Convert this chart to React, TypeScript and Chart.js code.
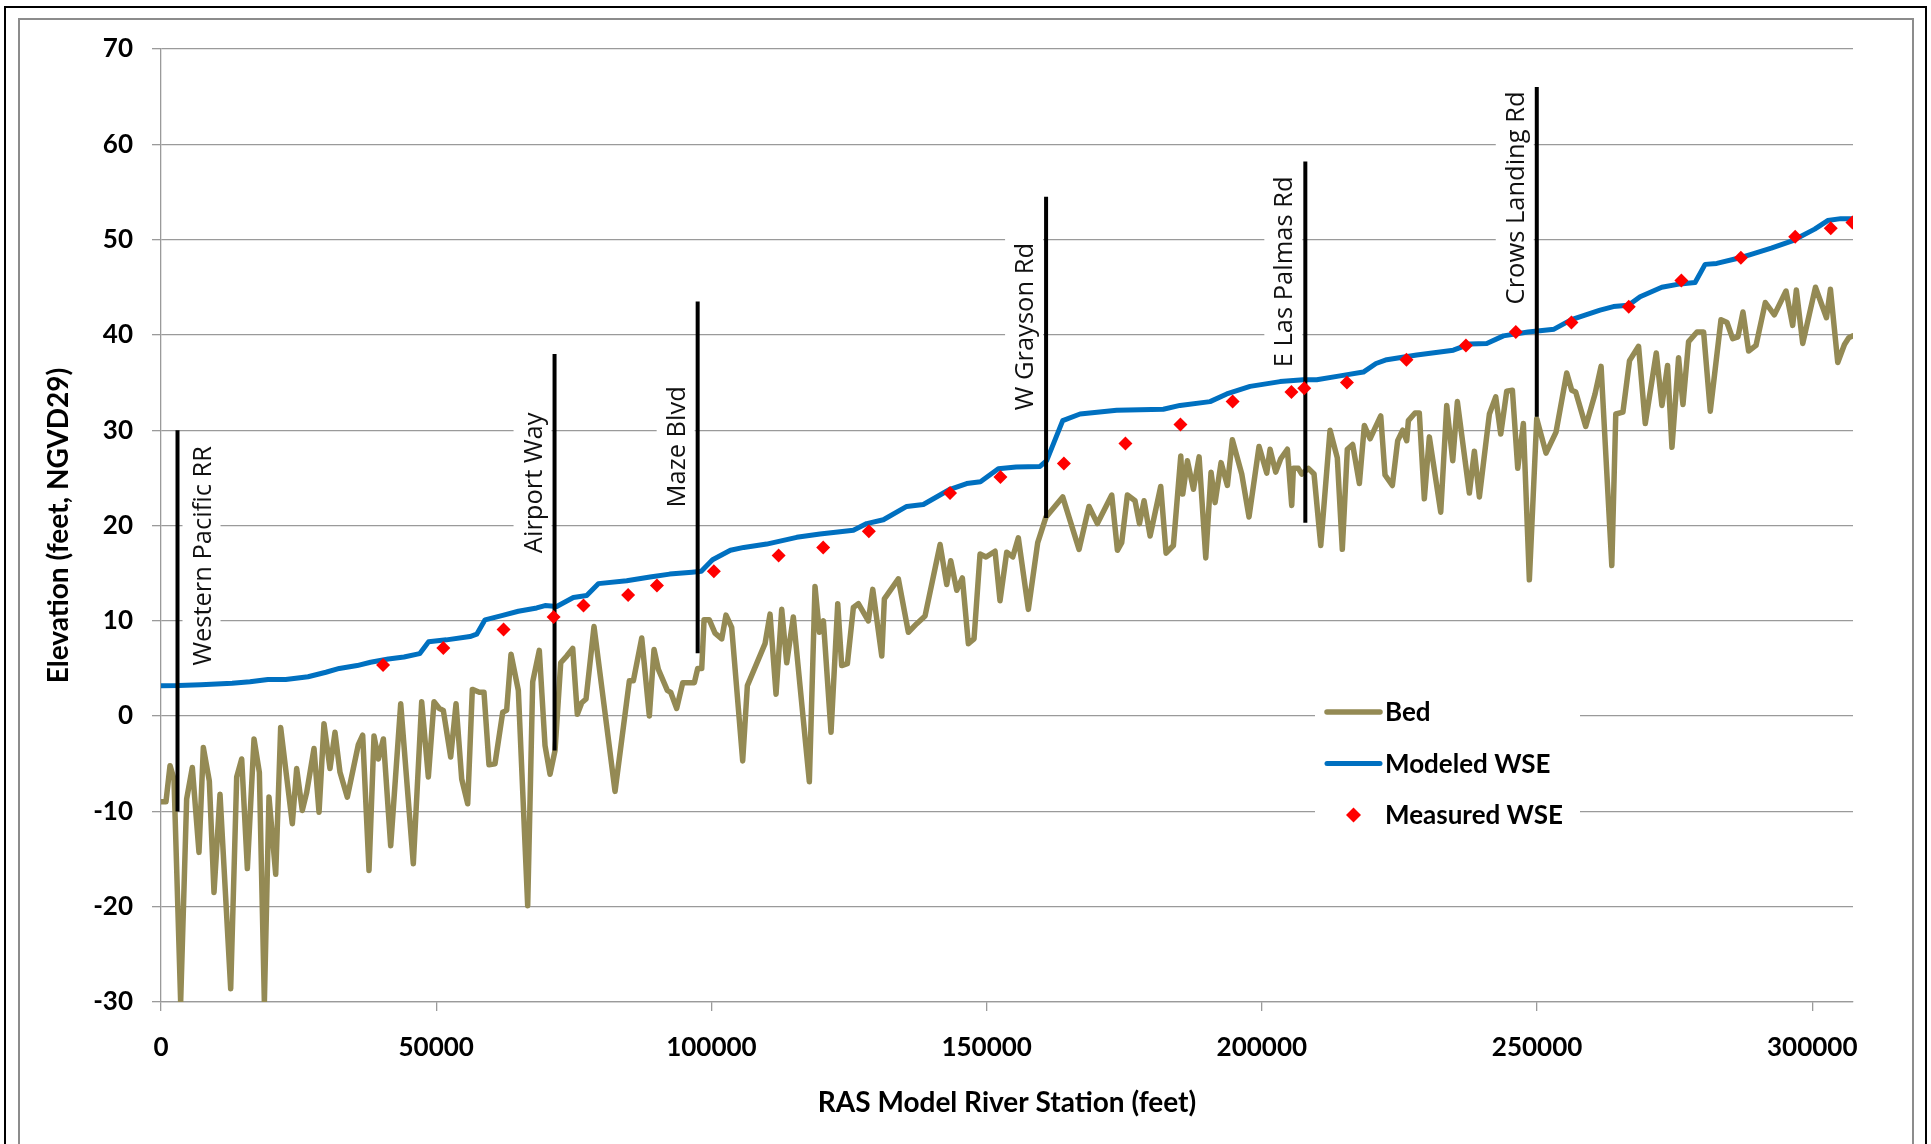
import React, { useEffect, useRef } from 'react';
import { Chart, registerables } from 'chart.js';

Chart.register(...registerables);

// Channel bed profile: [river station (ft), bed elevation (ft, NGVD29)]
const bedProfile: [number, number][] = [
  [0, -9.0], [900, -9.0], [1640, -5.2], [2360, -6.6], [3570, -30.0], [4660, -8.7], [5690, -5.4], [6900, -14.3], [7690, -3.3], [8780, -6.8],
  [9630, -18.5], [10720, -8.2], [12660, -28.6], [13750, -6.4], [14660, -4.5], [15690, -16.0], [16900, -2.4], [17870, -5.9], [18780, -30.0], [19620, -8.5],
  [20840, -16.6], [21740, -1.2], [23860, -11.3], [24650, -5.5], [25670, -9.9], [26470, -8.0], [27800, -3.4], [28710, -10.1], [29610, -0.8], [30700, -5.5],
  [31610, -1.7], [32520, -5.9], [33850, -8.5], [35850, -3.0], [36640, -2.0], [37790, -16.2], [38700, -2.1], [39490, -4.5], [40400, -2.4], [41730, -13.6],
  [43550, 1.3], [45840, -15.5], [47360, 1.5], [48570, -6.4], [49600, 1.5], [50570, 0.8], [51290, 0.6], [52630, -4.3], [53600, 1.3], [54630, -6.6],
  [55720, -9.2], [56560, 2.8], [57830, 2.5], [58680, 2.5], [59590, -5.1], [60680, -5.0], [62080, 0.4], [62800, 0.6], [63590, 6.5], [64920, 2.7],
  [66620, -19.9], [67530, 3.6], [68730, 6.9], [69770, -3.1], [70680, -6.1], [71590, -3.6], [72620, 5.6], [73710, 6.3], [74800, 7.1], [75640, 0.2],
  [76440, 1.4], [77220, 1.8], [78670, 9.4], [82490, -7.9], [85090, 3.7], [85820, 3.7], [87340, 8.2], [88720, 0.0], [89570, 7.0], [90360, 4.9],
  [91990, 2.7], [92600, 2.5], [93690, 0.8], [94790, 3.5], [96900, 3.5], [97510, 5.0], [98240, 5.0], [98660, 10.1], [99620, 10.1], [100650, 8.7],
  [101870, 8.1], [102650, 10.6], [103680, 9.3], [105680, -4.7], [106530, 3.2], [109740, 7.6], [110650, 10.7], [111740, 2.3], [112770, 11.2], [113680, 5.6],
  [114880, 10.4], [117790, -6.9], [118820, 13.6], [119610, 8.8], [120340, 10.0], [121730, -1.7], [122950, 11.8], [123670, 5.3], [124700, 5.5], [125790, 11.4],
  [126700, 11.8], [128510, 10.0], [129310, 13.3], [130950, 6.3], [131420, 12.3], [133960, 14.4], [135780, 8.8], [137300, 9.7], [138810, 10.5], [141540, 18.0],
  [142750, 13.8], [143480, 16.3], [144570, 13.2], [145590, 14.5], [146680, 7.6], [147710, 8.1], [148800, 17.0], [149890, 16.7], [151530, 17.3], [152430, 12.1],
  [153650, 17.2], [154740, 16.7], [155760, 18.7], [157580, 11.2], [159280, 18.2], [160790, 20.9], [163820, 23.0], [166790, 17.5], [168600, 22.0], [170120, 20.2],
  [172730, 23.2], [173760, 17.4], [174540, 18.2], [175570, 23.2], [176960, 22.6], [177760, 20.2], [178600, 22.6], [179700, 18.9], [181630, 24.1], [182600, 17.1],
  [183930, 17.9], [185270, 27.3], [185630, 23.3], [186480, 26.8], [187570, 23.8], [188600, 27.2], [189810, 16.6], [190770, 25.6], [191500, 22.4], [192590, 26.6],
  [193740, 24.2], [194640, 29.0], [196350, 25.4], [197670, 20.9], [199490, 28.3], [200890, 25.5], [201490, 28.0], [202520, 25.6], [203430, 27.0], [204640, 28.0],
  [205430, 22.1], [205730, 26.0], [206630, 26.0], [207250, 25.4], [208450, 26.0], [209480, 25.4], [210700, 17.9], [212390, 30.0], [213710, 27.1], [214620, 17.5],
  [215530, 28.0], [216500, 28.5], [217720, 24.4], [218620, 30.5], [219660, 29.1], [221600, 31.5], [222380, 25.3], [223710, 24.2], [224680, 28.9], [225590, 30.0],
  [226320, 28.9], [226620, 31.0], [227830, 31.8], [228610, 31.8], [229520, 22.8], [230430, 29.3], [232500, 21.4], [233590, 32.6], [234680, 26.8], [235520, 33.0],
  [237700, 23.4], [238610, 27.8], [239520, 23.0], [241340, 31.7], [242490, 33.5], [243400, 29.6], [244490, 34.1], [245520, 34.2], [246490, 26.0], [247510, 30.7],
  [248600, 14.3], [249940, 31.2], [251630, 27.6], [253450, 29.8], [255390, 36.0], [256300, 34.2], [257020, 34.0], [258840, 30.4], [260530, 33.8], [261630, 36.7],
  [263580, 15.8], [264300, 31.7], [265600, 31.9], [266800, 37.3], [268440, 38.8], [269660, 30.7], [271660, 38.1], [272690, 32.6], [273710, 36.8], [274510, 28.2],
  [275710, 37.6], [276510, 32.7], [277530, 39.3], [279060, 40.3], [280260, 40.3], [281470, 32.0], [283420, 41.6], [284510, 41.3], [285540, 39.6], [286500, 39.8],
  [287410, 42.4], [288440, 38.3], [289780, 38.9], [291470, 43.4], [293110, 42.1], [295230, 44.6], [296440, 41.0], [297110, 44.7], [298270, 39.1], [300580, 45.0],
  [302580, 41.8], [303300, 44.8], [304630, 37.1], [305850, 39.0], [306630, 39.7], [307400, 39.9],
];

// HEC-RAS computed water surface elevation: [station, WSE]
const modeledWse: [number, number][] = [
  [0, 3.18], [3190, 3.2], [7250, 3.3], [12920, 3.45], [16170, 3.6], [19420, 3.85], [22660, 3.85], [26720, 4.13], [29960, 4.6], [32390, 5.0],
  [35630, 5.3], [38070, 5.65], [41310, 6.0], [44150, 6.2], [46990, 6.55], [48620, 7.8], [51860, 8.0], [56140, 8.35], [57360, 8.6], [58870, 10.1],
  [61900, 10.55], [64920, 11.0], [68260, 11.35], [69770, 11.6], [71890, 11.5], [74910, 12.45], [77340, 12.65], [79450, 13.9], [84610, 14.2], [88840, 14.6],
  [92410, 14.9], [96470, 15.1], [98160, 15.2], [100200, 16.4], [103450, 17.4], [105880, 17.7], [110040, 18.05], [115490, 18.76], [119730, 19.1], [125790, 19.5],
  [128210, 20.2], [131240, 20.6], [135480, 22.0], [138500, 22.2], [143350, 23.8], [146380, 24.4], [148880, 24.6], [152120, 25.95], [155360, 26.15], [159700, 26.2],
  [160910, 26.8], [163820, 31.0], [166970, 31.7], [173630, 32.1], [182100, 32.2], [185130, 32.6], [190590, 33.0], [193620, 33.8], [197860, 34.6], [203310, 35.1],
  [207540, 35.3], [209970, 35.3], [214200, 35.7], [218440, 36.1], [220740, 37.0], [222690, 37.4], [228140, 37.9], [234790, 38.4], [237830, 39.05], [240860, 39.1],
  [243880, 39.9], [248360, 40.3], [253090, 40.6], [256250, 41.6], [261450, 42.6], [263870, 42.97], [266590, 43.1], [268720, 44.0], [272660, 45.0], [275990, 45.35],
  [278710, 45.5], [280530, 47.4], [282650, 47.5], [286880, 48.1], [288610, 48.4], [292550, 49.1], [296490, 49.9], [300440, 51.1], [302800, 52.0], [305180, 52.2],
  [307400, 52.2],
];

// Field-observed water surface elevations: [station, WSE]
const measuredWse: [number, number][] = [
  [40340, 5.36], [51290, 7.15], [62240, 9.1], [71330, 10.4], [76760, 11.6], [84870, 12.7], [90100, 13.7], [100440, 15.2], [112210, 16.84], [120310, 17.7],
  [128600, 19.4], [143350, 23.4], [152510, 25.1], [164030, 26.5], [175220, 28.6], [185210, 30.6], [194690, 33.0], [205380, 34.0], [207700, 34.4], [215460, 35.0],
  [226270, 37.4], [237080, 38.9], [246140, 40.3], [256250, 41.3], [266660, 42.95], [276220, 45.7], [287030, 48.1], [296900, 50.3], [303360, 51.2], [307300, 51.8],
];

// Bridge crossings drawn as vertical markers
const bridgeNames = ['Western Pacific RR', 'Airport Way', 'Maze Blvd', 'W Grayson Rd', 'E Las Palmas Rd', 'Crows Landing Rd'];
const bridgeStations = [3000, 71500, 97500, 160800, 207900, 249950];
const bridgeTops = [30, 38, 43.5, 54.5, 58.2, 66];
const bridgeBottoms = [-10, -3.6, 6.6, 20.8, 20.3, 31.4];

// Elevation where each rotated bridge name begins, and which side of the marker it sits on
const bridgeLabelStart = [5.3, 17.1, 21.9, 32.1, 36.6, 43.2];
const bridgeLabelSide = ['right', 'left', 'left', 'left', 'left', 'left'];

// Axis tick values
const stationTicks = [0, 50000, 100000, 150000, 200000, 250000, 300000];
const elevationTicks = [-30, -20, -10, 0, 10, 20, 30, 40, 50, 60, 70];

const STATION_MAX = 307400;

const BED_COLOR = '#948A54';
const WSE_COLOR = '#0070C0';
const MEASURED_COLOR = '#FF0000';
const GRID_COLOR = '#9a9a9a';
const LABEL_FONT = '"Lato", "Noto Sans", sans-serif';

const toPoints = (rows: [number, number][]) => rows.map(([x, y]) => ({ x, y }));

const bridgeLabelPlugin = {
  id: 'bridgeLabels',
  beforeDatasetsDraw(chart: any) {
    const { ctx } = chart;
    const xs = chart.scales.x;
    const ys = chart.scales.y;
    ctx.save();
    ctx.font = '25.5px "Open Sans", "Noto Sans", sans-serif';
    bridgeNames.forEach((name, i) => {
      const lx = xs.getPixelForValue(bridgeStations[i]);
      const startY = ys.getPixelForValue(bridgeLabelStart[i]);
      const base = bridgeLabelSide[i] === 'right' ? lx + 33 : lx - 13;
      const len = ctx.measureText(name).width;
      ctx.fillStyle = '#ffffff';
      ctx.fillRect(base - 28, startY - len - 6, 38, len + 12);
      ctx.save();
      ctx.translate(base, startY);
      ctx.rotate(-Math.PI / 2);
      ctx.fillStyle = '#111111';
      ctx.textAlign = 'left';
      ctx.textBaseline = 'alphabetic';
      ctx.fillText(name, 0, 0);
      ctx.restore();
    });
    ctx.restore();
  },
};

const insetLegendPlugin = {
  id: 'insetLegend',
  afterDatasetsDraw(chart: any) {
    const { ctx, chartArea } = chart;
    const left = chartArea.left + 1154;
    const top = chartArea.top + 637;
    const width = 265;
    const height = 156;
    ctx.save();
    ctx.fillStyle = '#ffffff';
    ctx.fillRect(left, top, width, height);
    const rows = [
      { text: 'Bed', kind: 'line', color: BED_COLOR, lw: 5.5 },
      { text: 'Modeled WSE', kind: 'line', color: WSE_COLOR, lw: 5 },
      { text: 'Measured WSE', kind: 'diamond', color: MEASURED_COLOR, lw: 0 },
    ];
    ctx.font = `bold 26px ${LABEL_FONT}`;
    ctx.textBaseline = 'middle';
    ctx.textAlign = 'left';
    rows.forEach((row, i) => {
      const cy = top + 26 + i * 51.5;
      const sx0 = left + 12;
      const sx1 = left + 65;
      if (row.kind === 'line') {
        ctx.strokeStyle = row.color;
        ctx.lineWidth = row.lw;
        ctx.lineCap = 'round';
        ctx.beginPath();
        ctx.moveTo(sx0, cy);
        ctx.lineTo(sx1, cy);
        ctx.stroke();
      } else {
        const cx = (sx0 + sx1) / 2;
        const r = 7.5;
        ctx.fillStyle = row.color;
        ctx.beginPath();
        ctx.moveTo(cx - r, cy);
        ctx.lineTo(cx, cy - r);
        ctx.lineTo(cx + r, cy);
        ctx.lineTo(cx, cy + r);
        ctx.closePath();
        ctx.fill();
      }
      ctx.fillStyle = '#000000';
      ctx.fillText(row.text, left + 70, cy + 1);
    });
    ctx.restore();
  },
};

export default function App() {
  const canvasRef = useRef<HTMLCanvasElement>(null);

  useEffect(() => {
    const canvas = canvasRef.current;
    if (!canvas) return;

    const bridgeSets = bridgeNames.map((name, i) => ({
      label: name,
      data: [
        { x: bridgeStations[i], y: bridgeBottoms[i] },
        { x: bridgeStations[i], y: bridgeTops[i] },
      ],
      showLine: true,
      borderColor: '#000000',
      borderWidth: 4,
      pointRadius: 0,
      order: 1,
    }));

    const tickFont = { family: LABEL_FONT, weight: 'bold' as const, size: 26 };
    const titleFont = { family: LABEL_FONT, weight: 'bold' as const, size: 28 };

    const chart = new Chart(canvas, {
      type: 'scatter',
      data: {
        datasets: [
          {
            label: 'Bed',
            data: toPoints(bedProfile),
            showLine: true,
            borderColor: BED_COLOR,
            borderWidth: 5.5,
            pointRadius: 0,
            borderJoinStyle: 'round',
            borderCapStyle: 'round',
            order: 3,
          },
          {
            label: 'Modeled WSE',
            data: toPoints(modeledWse),
            showLine: true,
            borderColor: WSE_COLOR,
            borderWidth: 5,
            pointRadius: 0,
            borderJoinStyle: 'round',
            borderCapStyle: 'round',
            order: 2,
          },
          ...bridgeSets,
          {
            label: 'Measured WSE',
            data: toPoints(measuredWse),
            showLine: false,
            pointStyle: 'rectRot',
            pointRadius: 7,
            backgroundColor: MEASURED_COLOR,
            borderColor: MEASURED_COLOR,
            borderWidth: 0,
            order: 0,
          },
        ] as any,
      },
      options: {
        responsive: false,
        animation: false,
        events: [],
        layout: { padding: { left: 0, top: 49, right: 78, bottom: 0 } },
        plugins: {
          legend: { display: false },
          tooltip: { enabled: false },
        },
        scales: {
          x: {
            type: 'linear',
            min: 0,
            max: STATION_MAX,
            afterFit: (scale: any) => {
              scale.height = 142;
            },
            afterBuildTicks: (scale: any) => {
              scale.ticks = stationTicks.map((value) => ({ value }));
            },
            ticks: {
              autoSkip: false,
              maxRotation: 0,
              color: '#000000',
              font: tickFont,
              padding: 21,
              callback: (v: any) => String(v),
            },
            grid: {
              drawOnChartArea: false,
              drawTicks: true,
              tickLength: 9,
              color: GRID_COLOR,
              lineWidth: 1.3,
            },
            border: { display: true, color: GRID_COLOR, width: 1.3 },
            title: {
              display: true,
              text: 'RAS Model River Station (feet)',
              color: '#000000',
              font: titleFont,
              padding: { top: 0, bottom: 24 },
            },
          },
          y: {
            type: 'linear',
            min: elevationTicks[0],
            max: elevationTicks[elevationTicks.length - 1],
            afterFit: (scale: any) => {
              scale.width = 161;
            },
            afterBuildTicks: (scale: any) => {
              scale.ticks = elevationTicks.map((value) => ({ value }));
            },
            ticks: {
              autoSkip: false,
              color: '#000000',
              font: tickFont,
              padding: 19,
              callback: (v: any) => String(v),
            },
            grid: {
              color: GRID_COLOR,
              lineWidth: 1.3,
              drawTicks: true,
              tickLength: 9,
            },
            border: { display: true, color: GRID_COLOR, width: 1.3 },
            title: {
              display: true,
              text: 'Elevation (feet, NGVD29)',
              color: '#000000',
              font: titleFont,
              padding: { top: 42, bottom: 0 },
            },
          },
        },
      } as any,
      plugins: [bridgeLabelPlugin, insetLegendPlugin],
    });

    return () => chart.destroy();
  }, []);

  return (
    <div
      style={{
        position: 'fixed',
        left: 0,
        top: 0,
        width: 1931,
        height: 1144,
        overflow: 'hidden',
        background: '#ffffff',
      }}
    >
      <canvas
        ref={canvasRef}
        width={1931}
        height={1144}
        style={{ position: 'absolute', left: 0, top: 0, width: 1931, height: 1144 }}
      />
      <div
        style={{
          position: 'absolute',
          left: 4,
          top: 6,
          width: 1923,
          height: 1200,
          boxSizing: 'border-box',
          border: '2px solid #000000',
          pointerEvents: 'none',
        }}
      />
      <div
        style={{
          position: 'absolute',
          left: 18,
          top: 18,
          width: 1896,
          height: 1200,
          boxSizing: 'border-box',
          border: '2px solid #8c8c8c',
          pointerEvents: 'none',
        }}
      />
    </div>
  );
}
